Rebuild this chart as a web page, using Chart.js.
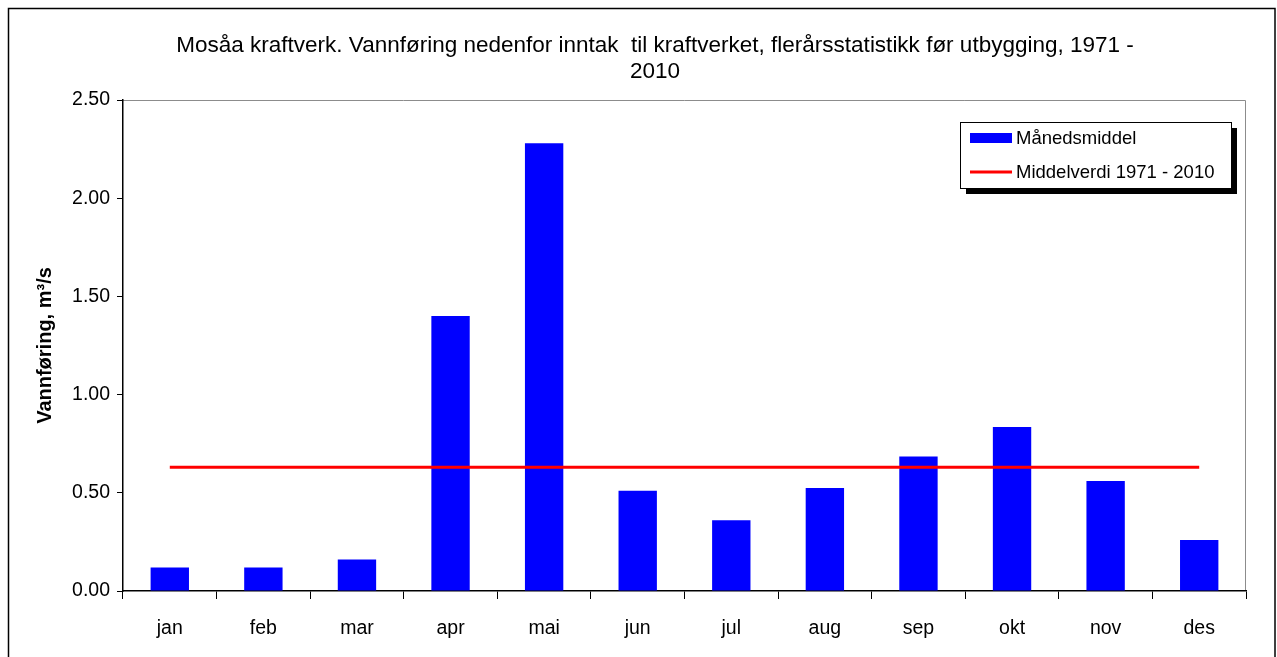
<!DOCTYPE html>
<html>
<head>
<meta charset="utf-8">
<script src="https://cdn.jsdelivr.net/npm/chart.js@4.4.0/dist/chart.umd.min.js"></script>
<style>
html, body { margin: 0; padding: 0; background: #fff; }
#wrap { width: 1277px; height: 657px; }
</style>
</head>
<body>
<div id="wrap"><canvas id="flowChart" width="1277" height="657"></canvas></div>
<script>
// Data
const months = ['jan', 'feb', 'mar', 'apr', 'mai', 'jun', 'jul', 'aug', 'sep', 'okt', 'nov', 'des'];
const monthlyMean = [0.12, 0.12, 0.16, 1.40, 2.28, 0.51, 0.36, 0.525, 0.685, 0.835, 0.56, 0.26];
const periodMean = [0.63, 0.63, 0.63, 0.63, 0.63, 0.63, 0.63, 0.63, 0.63, 0.63, 0.63, 0.63];
const titleLines = ['Mosåa kraftverk. Vannføring nedenfor inntak  til kraftverket, flerårsstatistikk før utbygging, 1971 -', '2010'];

Chart.defaults.font.family = '"Liberation Sans", Arial, sans-serif';
Chart.defaults.color = '#000';

// outer frame + grey top/right edge of the plot area
const framePlugin = {
    id: 'frame',
    beforeDraw(chart) {
        const ctx = chart.ctx;
        const a = chart.chartArea;
        ctx.save();
        ctx.fillStyle = '#fff';
        ctx.fillRect(0, 0, chart.width, chart.height);
        ctx.strokeStyle = '#000';
        ctx.lineWidth = 1.5;
        ctx.strokeRect(8.5, 8.5, 1266.5, 700);
        ctx.strokeStyle = '#8c8c8c';
        ctx.lineWidth = 1;
        ctx.beginPath();
        ctx.moveTo(a.left, a.top + 0.5);
        ctx.lineTo(a.right - 0.5, a.top + 0.5);
        ctx.lineTo(a.right - 0.5, a.bottom);
        ctx.stroke();
        ctx.restore();
    }
};

// legend box with drop shadow inside the plot area
const boxLegend = {
    id: 'boxLegend',
    afterDraw(chart) {
        const ctx = chart.ctx;
        const a = chart.chartArea;
        const w = 271, h = 66;
        const x = a.right - 15 - w, y = a.top + 22;
        ctx.save();
        ctx.fillStyle = '#000';
        ctx.fillRect(x + 6, y + 6, w, h);
        ctx.fillStyle = '#fff';
        ctx.fillRect(x, y, w, h);
        ctx.strokeStyle = '#000';
        ctx.lineWidth = 1;
        ctx.strokeRect(x + 0.5, y + 0.5, w, h);
        ctx.font = '18.5px "Liberation Sans", Arial, sans-serif';
        ctx.textBaseline = 'middle';
        chart.data.datasets.forEach((ds, i) => {
            const cy = y + 16 + i * 34;
            if (ds.type === 'line') {
                ctx.strokeStyle = ds.borderColor;
                ctx.lineWidth = 3;
                ctx.beginPath();
                ctx.moveTo(x + 10, cy);
                ctx.lineTo(x + 52, cy);
                ctx.stroke();
            } else {
                ctx.fillStyle = ds.backgroundColor;
                ctx.fillRect(x + 10, cy - 5, 42, 10);
            }
            ctx.fillStyle = '#000';
            ctx.fillText(ds.label, x + 56, cy + 1);
        });
        ctx.restore();
    }
};

const ctxFlow = document.getElementById('flowChart').getContext('2d');
const flowChart = new Chart(ctxFlow, {
    type: 'bar',
    data: {
        labels: months,
        datasets: [{
            type: 'bar',
            label: 'Månedsmiddel',
            data: monthlyMean,
            backgroundColor: '#0000FF',
            categoryPercentage: 1,
            barPercentage: 0.41,
            order: 1
        }, {
            type: 'line',
            label: 'Middelverdi 1971 - 2010',
            data: periodMean,
            borderColor: '#FF0000',
            borderWidth: 3,
            pointRadius: 0,
            fill: false,
            order: 0
        }]
    },
    options: {
        responsive: false,
        animation: false,
        devicePixelRatio: 1,
        layout: { padding: { left: 33, right: 0, top: 0, bottom: 0 } },
        scales: {
            x: {
                offset: true,
                grid: { offset: true, drawOnChartArea: false, drawTicks: true, tickLength: 8, color: '#000' },
                border: { color: '#000', width: 1.5 },
                ticks: { font: { size: 19.5 }, padding: 18 },
                afterFit(s) { s.height = 66; }
            },
            y: {
                min: 0,
                max: 2.5,
                ticks: { stepSize: 0.5, font: { size: 19.5 }, padding: 7, callback: v => v.toFixed(2) },
                grid: { drawOnChartArea: false, drawTicks: true, tickLength: 6, color: '#000' },
                border: { color: '#000', width: 1.5 },
                title: {
                    display: true,
                    text: 'Vannføring, m³/s',
                    font: { size: 20, weight: 'bold' },
                    padding: { top: 0, bottom: 0 }
                },
                afterFit(s) { s.width = 90; }
            },
            yRight: {
                position: 'right',
                grid: { display: false },
                border: { display: false },
                ticks: { display: false },
                afterFit(s) { s.width = 31; }
            }
        },
        plugins: {
            legend: { display: false },
            tooltip: { enabled: false },
            title: {
                display: true,
                text: titleLines,
                font: { size: 22.5, weight: 'normal', lineHeight: '26px' },
                padding: { top: 33, bottom: 15 }
            }
        }
    },
    plugins: [framePlugin, boxLegend]
});
</script>
</body>
</html>
